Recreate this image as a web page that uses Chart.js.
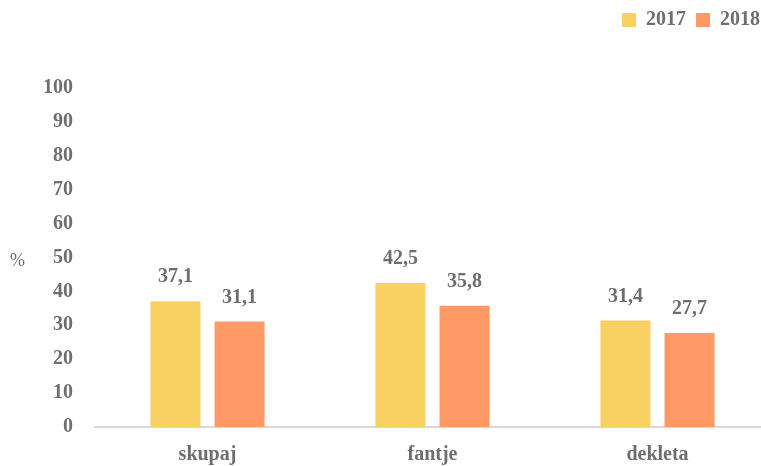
<!DOCTYPE html>
<html>
<head>
<meta charset="utf-8">
<script src="https://cdn.jsdelivr.net/npm/chart.js@4"></script>
<style>
	html, body { margin: 0; padding: 0; background: #ffffff; overflow: hidden; }
	#wrap { width: 780px; height: 466px; }
</style>
</head>
<body>
<div id="wrap"><canvas id="chart" width="780" height="466"></canvas></div>
<script>

const categories = [ 'skupaj', 'fantje', 'dekleta' ];
const years = [ '2017', '2018' ];
const values2017 = [ 37.1, 42.5, 31.4 ];
const values2018 = [ 31.1, 35.8, 27.7 ];
const yTicks = [ 0, 10, 20, 30, 40, 50, 60, 70, 80, 90, 100 ];

const textColour = '#6e6e6e';
const fontFamily = '"Liberation Serif", "DejaVu Serif", serif';

// value labels above each bar, decimal comma
const valueLabels = {
	id: 'valueLabels',
	afterDatasetsDraw ( chart ) {

		const ctx = chart.ctx;

		ctx.save();
		ctx.font = 'bold 20px ' + fontFamily;
		ctx.fillStyle = textColour;
		ctx.textAlign = 'center';
		ctx.textBaseline = 'alphabetic';

		chart.data.datasets.forEach( ( dataset, d ) => {

			chart.getDatasetMeta( d ).data.forEach( ( bar, i ) => {

				const text = dataset.data[ i ].toFixed( 1 ).replace( '.', ',' );
				ctx.fillText( text, bar.x, bar.y - 19 );

			} );

		} );

		ctx.restore();

	}
};

// the "%" unit beside the y axis
const unitLabel = {
	id: 'unitLabel',
	afterDraw ( chart ) {

		const ctx = chart.ctx;
		const y = chart.scales.y.getPixelForValue( 50 );

		ctx.save();
		ctx.font = '18px ' + fontFamily;
		ctx.fillStyle = textColour;
		ctx.textAlign = 'left';
		ctx.textBaseline = 'middle';
		ctx.fillText( '%', 10, y + 4 );
		ctx.restore();

	}
};

// extra room between the legend and the plot
const legendGap = {
	id: 'legendGap',
	afterInit ( chart ) {

		const legend = chart.legend;
		if ( ! legend ) return;

		const fit = legend.fit;
		legend.fit = function () {

			fit.call( this );
			this.height += 48;

		};

	}
};

const config = {
	type: 'bar',
	data: {
		labels: categories,
		datasets: [ {
			label: years[ 0 ],
			data: values2017,
			backgroundColor: '#f9d062'
		}, {
			label: years[ 1 ],
			data: values2018,
			backgroundColor: '#ff9966'
		} ]
	},
	options: {
		responsive: false,
		animation: false,
		layout: {
			padding: { left: 0, right: 10, top: 0, bottom: 0 }
		},
		datasets: {
			bar: {
				barPercentage: 0.78,
				categoryPercentage: 0.57
			}
		},
		scales: {
			x: {
				grid: { display: false, drawTicks: false },
				border: { display: true, color: '#d9d9d9', width: 2 },
				ticks: {
					color: textColour,
					padding: 16,
					font: { family: fontFamily, size: 20, weight: 'bold' }
				},
				afterFit: scale => { scale.height = 39; }
			},
			y: {
				min: 0,
				max: 100,
				afterBuildTicks: scale => { scale.ticks = yTicks.map( v => ( { value: v } ) ); },
				grid: { display: false, drawTicks: false },
				border: { display: false },
				ticks: {
					color: textColour,
					padding: 22,
					font: { family: fontFamily, size: 20, weight: 'bold' }
				},
				afterFit: scale => { scale.width = 95; }
			}
		},
		plugins: {
			legend: {
				position: 'top',
				align: 'end',
				labels: {
					color: textColour,
					boxWidth: 14,
					boxHeight: 14,
					padding: 10,
					font: { family: fontFamily, size: 20, weight: 'bold' }
				}
			},
			tooltip: { enabled: false }
		}
	},
	plugins: [ valueLabels, unitLabel, legendGap ]
};

const chart = new Chart( document.getElementById( 'chart' ), config );

</script>
</body>
</html>
